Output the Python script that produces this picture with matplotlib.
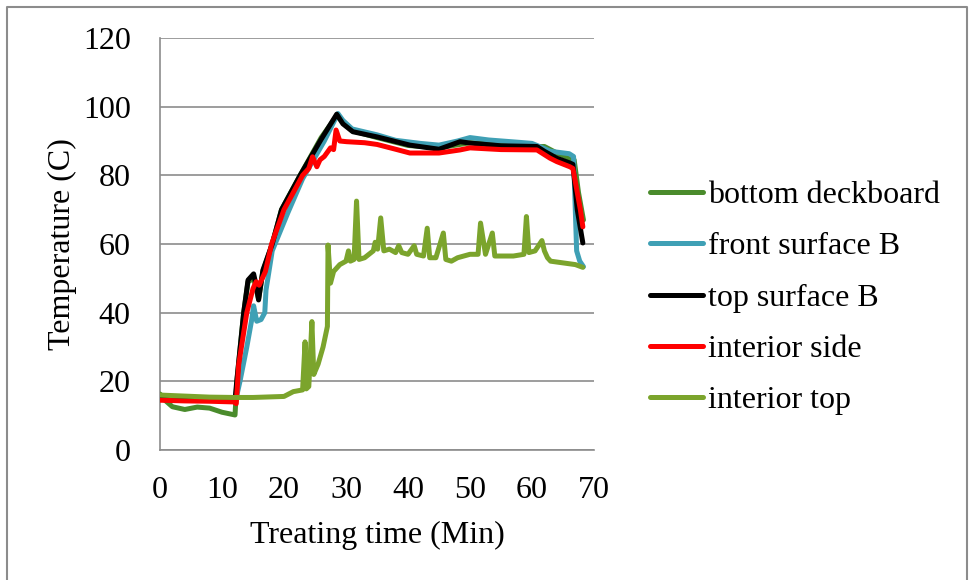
#!/usr/bin/env python3
"""
Temperature profile during treating - recreated chart
"""

import matplotlib
matplotlib.use('Agg')
import matplotlib.pyplot as plt
import matplotlib.lines as mlines

# Data (time in min, temperature in C)
bottom_t = [0, 0.8, 2, 4, 6, 8, 10, 12.1, 12.4, 13.5, 14.2, 15.1, 15.9, 16.6, 18.1, 19.6,
            22.6, 26, 28.5, 31, 35, 40, 45, 50, 55, 60, 62, 64, 66, 66.8, 67.5, 68.3]
bottom_v = [16.3, 14.5, 12.6, 11.8, 12.5, 12.2, 11.0, 10.2, 20, 40, 49, 50, 44, 52, 60, 70,
            80, 91, 97.3, 93, 91, 88.7, 88.0, 89.5, 89.0, 88.3, 88.4, 86.5, 85.0, 84.5, 75, 67]

front_t = [0, 4, 8, 12.0, 12.4, 12.9, 14.0, 14.8, 15.1, 15.6, 16.3, 16.9, 17.1, 18.1, 20.6,
           23.0, 26.5, 28.7, 29.5, 31, 35, 38, 42, 45, 48, 50, 53, 58, 60, 62, 63, 66, 66.7,
           67.2, 67.7, 68.3]
front_v = [15.5, 15.3, 15.0, 14.8, 16, 20, 30, 38, 42, 37.5, 38, 40, 46.6, 58, 69,
           79, 90, 98, 96, 93.5, 91.8, 90.2, 89.3, 88.8, 90.0, 91.0, 90.3, 89.6, 89.3, 87.8, 87.0, 86.3, 85.5,
           58, 55, 53.4]

top_t = [0, 2, 6, 10, 12.1, 12.4, 13.5, 14.2, 15.1, 15.5, 15.9, 16.6, 18.1, 19.6, 22.6,
         26.0, 28.5, 29.5, 31.1, 35, 40.3, 45, 48.4, 50, 55, 60.8, 62, 64, 66.1, 66.6, 67.3,
         68.2]
top_v = [15.8, 15.3, 15.0, 14.7, 14.5, 20.4, 40, 49.5, 51.3, 48, 43.7, 52.4, 60, 70, 80,
         90.5, 97.8, 95, 92.7, 91.2, 88.8, 87.6, 89.8, 89.4, 88.6, 88.4, 87.0, 85.0, 83.6, 83.2, 70,
         60.3]

side_t = [0, 4, 8, 12.0, 12.3, 12.7, 14.0, 15.0, 15.5, 16.0, 17.0, 18.0, 20.0, 23.0, 24.0,
          24.6, 25.3, 25.8, 26.5, 27.5, 28.0, 28.4, 29.0, 30.1, 33, 35, 38, 40.3, 45, 48.4,
          50, 55, 60.8, 62.9, 64, 66.1, 66.6, 67.8, 68.2]
side_v = [14.5, 14.3, 14.2, 14.0, 13.5, 25, 40, 47, 49, 48, 52, 60, 70, 80, 82,
          85.4, 82.5, 84.5, 85.5, 88, 87.5, 93.2, 90, 89.8, 89.5, 89.0, 87.6, 86.5, 86.5, 87.4,
          88.0, 87.5, 87.4, 85.0, 84.0, 82.5, 82.0, 70, 65]

itop_t = [0, 4, 8, 12, 15, 20, 21.5, 23.0, 23.4, 23.6, 24.0, 24.5, 24.8, 25.5, 26.3, 27.0,
          27.1, 27.5, 28, 29, 30.0, 30.4, 30.7, 31.3, 31.7, 32.1, 33, 34.4, 34.7, 35.1, 35.6,
          36.1, 37, 38, 38.5, 39, 40, 41, 41.4, 42.5, 43.1, 43.5, 44.5, 45.7, 46.1, 47,
          48, 50, 51.3, 51.7, 52.5, 53.6, 54, 55, 57, 58.7, 59.1, 59.5, 60.5, 61.6, 62.0,
          62.5, 63, 65, 67, 68.2]
itop_v = [16.0, 15.7, 15.4, 15.3, 15.3, 15.6, 17.0, 17.5, 31.5, 17.8, 18.5, 37.4, 22.0, 25, 30, 36,
          59.7, 48.6, 52, 54, 55, 58, 55, 55.5, 72.5, 55.5, 56, 58, 60.5, 58.5, 67.6,
          58, 58.5, 57.5, 59.5, 57.5, 57, 59.5, 57, 56.5, 64.6, 56, 56, 63.2, 55.5, 55,
          56, 57, 57, 66.1, 57, 63.2, 56.5, 56.5, 56.5, 57, 68, 57.5, 58, 61, 58,
          56, 55, 54.5, 54, 53.2]

series_names = ['bottom deckboard', 'front surface B', 'top surface B',
                'interior side', 'interior top']
series_colors = ['#4A8B2C', '#3FA0B5', '#000000', '#FF0000', '#7BA42C']

y_ticks = [0, 20, 40, 60, 80, 100, 120]
x_ticks = [0, 10, 20, 30, 40, 50, 60, 70]

plt.rcParams['font.family'] = ['Liberation Serif', 'DejaVu Serif']
fs = 23

fig = plt.figure(figsize=(9.69, 5.80), dpi=100)
fig.patch.set_facecolor('white')
ax = fig.add_axes([160 / 969, 1 - 450 / 580, 434 / 969, 412 / 580])

data = [(bottom_t, bottom_v), (front_t, front_v), (top_t, top_v),
        (side_t, side_v), (itop_t, itop_v)]
handles = []
for (t, v), name, color in zip(data, series_names, series_colors):
    ax.plot(t, v, color=color, linewidth=3.6, solid_joinstyle='round',
            solid_capstyle='round', zorder=3)
    handles.append(mlines.Line2D([], [], color=color, linewidth=3.6,
                                 solid_capstyle='round', label=name))

ax.set_xlim(0, 70)
ax.set_ylim(0, 120)
ax.set_xticks(x_ticks)
ax.set_yticks(y_ticks)
ax.tick_params(axis='both', length=0, labelsize=fs, colors='black')
ax.tick_params(axis='x', pad=19)
ax.tick_params(axis='y', pad=21)

ax.grid(axis='y', color='#8C8C8C', linewidth=1.2)
ax.set_axisbelow(True)
for side in ['top', 'right']:
    ax.spines[side].set_visible(False)
for side in ['left', 'bottom']:
    ax.spines[side].set_color('#8C8C8C')
    ax.spines[side].set_linewidth(1.2)

ax.set_xlabel('Treating time (Min)', fontsize=fs, labelpad=11)
ax.set_ylabel('Temperature (C)', fontsize=fs, labelpad=4)

fig.legend(handles=handles, loc='center left', bbox_to_anchor=(650 / 969, 1 - 298 / 580),
           frameon=False, fontsize=fs, handlelength=1.65, handletextpad=0.16,
           labelspacing=0.69, borderaxespad=0, borderpad=0)

# Outer chart frame (no bottom edge)
fig.add_artist(mlines.Line2D([6.5 / 969, 6.5 / 969, 967 / 969, 967 / 969],
                             [0, 1 - 6.5 / 580, 1 - 6.5 / 580, 0],
                             color='#8C8C8C', linewidth=1.5))

plt.savefig('out.png', dpi=100, facecolor='white')
plt.close()
